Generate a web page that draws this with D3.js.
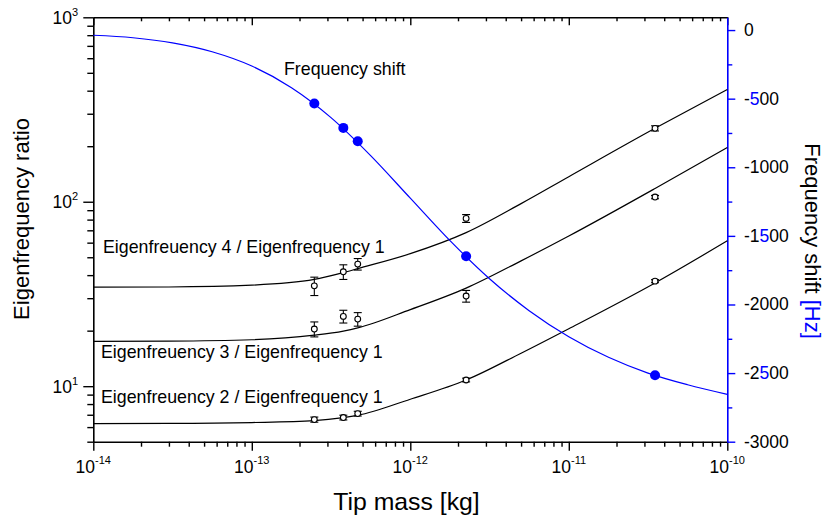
<!DOCTYPE html>
<html>
<head>
<meta charset="utf-8">
<script src="https://cdn.jsdelivr.net/npm/d3@7"></script>
<style>
    body { margin: 0; background: #fff; }
    text { font-family: "Liberation Sans", Arial, sans-serif; }
</style>
</head>
<body>
<svg id="chart" width="826" height="518"></svg>
<script>
// measured tip masses [kg]
const massData = [2.48e-13, 3.78e-13, 4.66e-13, 2.25e-12, 3.5e-11]

// measured eigenfrequency ratios and their errors
const ratio2 = [6.59, 6.76, 7.10, 10.8, 37.1]
const ratio2Err = [0.21, 0.20, 0.21, 0.25, 0.7]
const ratio3 = [20.4, 23.9, 23.1, 30.8, 106]
const ratio3Err = [1.9, 1.9, 1.95, 2.25, 2.2]
const ratio4 = [35.0, 41.7, 45.9, 81.2, 250]
const ratio4Err = [4.0, 3.8, 3.3, 4.0, 8]

// measured frequency shift [Hz]
const freqData = [-535, -713, -810, -1648, -2516]

// theory curves for the ratios
const theoryMass = [1e-14, 3e-14, 1e-13, 2.48e-13, 3.78e-13, 4.66e-13, 1e-12, 2.25e-12, 5e-12, 1e-11, 3.5e-11, 1e-10]
const theory2 = [6.27, 6.28, 6.35, 6.50, 6.75, 6.95, 8.5, 10.8, 15.1, 20.5, 36.3, 61.4]
const theory3 = [17.5, 17.55, 17.85, 18.9, 19.9, 20.7, 26.0, 34.0, 47.8, 65.2, 118, 197]
const theory4 = [34.4, 34.5, 35.3, 37.9, 41.3, 43.4, 52.3, 68.0, 97.7, 136.7, 250, 406]

// theory curve for the frequency shift
const freqMass = [1e-14, 1.78e-14, 3.16e-14, 5.62e-14, 1e-13, 1.78e-13, 3.16e-13, 5.62e-13, 1e-12,
    1.78e-12, 3.16e-12, 5.62e-12, 1e-11, 1.78e-11, 3.16e-11, 5.62e-11, 1e-10]
const freqShift = [-38, -56, -93, -158, -262, -420, -638, -915, -1225,
    -1535, -1812, -2045, -2235, -2385, -2500, -2585, -2655]

// tick labels
const xDecades = [-14, -13, -12, -11, -10]
const yDecades = [1, 2, 3]
const rightTicks = [-3000, -2500, -2000, -1500, -1000, -500, 0]

const blue = '#0000ff'
const plotLeft = 93.3, plotRight = 727.3, plotTop = 17.3, plotBottom = 441.7

const svg = d3.select('#chart')

const x = d3.scaleLog().domain([1e-14, 1e-10]).range([plotLeft, plotRight])
const yL = d3.scaleLog().domain([5, 1000]).range([plotBottom, plotTop])
const yR = d3.scaleLinear().domain([-3000, 93]).range([plotBottom, plotTop])

const isDecade = d => Math.abs(Math.log10(d) - Math.round(Math.log10(d))) < 1e-6

// bottom axis
const xAxis = svg.append('g')
    .attr('transform', `translate(0,${plotBottom})`)
    .call(d3.axisBottom(x).tickValues(x.ticks()).tickFormat('').tickSizeOuter(0))
xAxis.selectAll('.tick line').attr('y2', d => isDecade(d) ? 9 : 5)

// top axis, ticks inside
const xTop = svg.append('g')
    .attr('transform', `translate(0,${plotTop})`)
    .call(d3.axisBottom(x).tickValues(x.ticks()).tickFormat('').tickSizeOuter(0))
xTop.selectAll('.tick line').attr('y2', d => isDecade(d) ? 8 : 4)

// left axis
const yAxis = svg.append('g')
    .attr('transform', `translate(${plotLeft},0)`)
    .call(d3.axisLeft(yL).tickValues(yL.ticks()).tickFormat('').tickSizeOuter(0))
yAxis.selectAll('.tick line').attr('x2', d => isDecade(d) ? -10 : -6)

// right axis (frequency shift)
const rTicks = d3.range(-3000, 1, 250)
const rAxis = svg.append('g')
    .attr('transform', `translate(${plotRight},0)`)
    .call(d3.axisRight(yR).tickValues(rTicks).tickFormat('').tickSizeOuter(0))
rAxis.selectAll('.tick line').attr('x2', d => d % 500 === 0 ? 8 : 5).attr('stroke', blue)
rAxis.select('.domain').attr('stroke', blue)

svg.selectAll('.domain').attr('stroke-width', 1.6)
svg.selectAll('.tick line').attr('stroke-width', 1.4)

// x tick labels
xDecades.forEach(p => {
    const t = svg.append('text')
        .attr('x', x(Math.pow(10, p)))
        .attr('y', 473)
        .attr('text-anchor', 'middle')
        .style('font-size', '17.5px')
    t.append('tspan').text('10')
    t.append('tspan').attr('dy', -9).style('font-size', '11px').text(p)
})

// left tick labels
yDecades.forEach(p => {
    const t = svg.append('text')
        .attr('x', 78)
        .attr('y', yL(Math.pow(10, p)) + 6.5)
        .attr('text-anchor', 'end')
        .style('font-size', '17.5px')
    t.append('tspan').text('10')
    t.append('tspan').attr('dy', -8).style('font-size', '11px').text(p)
})

// right tick labels, the fives are blue in the original
rightTicks.forEach(v => {
    const t = svg.append('text')
        .attr('x', 744)
        .attr('y', yR(v) + 6)
        .style('font-size', '17.5px')
    String(v).split('').forEach(c => {
        t.append('tspan').attr('fill', c === '5' ? blue : '#000').text(c)
    })
})

// axis titles
svg.append('text')
    .attr('x', 406.5).attr('y', 510)
    .attr('text-anchor', 'middle')
    .style('font-size', '24.8px')
    .text('Tip mass [kg]')

svg.append('text')
    .attr('transform', 'translate(29,219) rotate(-90)')
    .attr('text-anchor', 'middle')
    .style('font-size', '22px')
    .text('Eigenfrequency ratio')

const rt = svg.append('text')
    .attr('transform', 'translate(805,241) rotate(90)')
    .attr('text-anchor', 'middle')
    .style('font-size', '22px')
rt.append('tspan').text('Frequency shift ')
rt.append('tspan').attr('fill', blue).text('[Hz]')

// theory lines
const ratioLine = d3.line()
    .x(d => x(d[0]))
    .y(d => yL(d[1]))
    .curve(d3.curveMonotoneX)

;[theory2, theory3, theory4].forEach(vals => {
    svg.append('path')
        .datum(theoryMass.map((m, i) => [m, vals[i]]))
        .attr('d', ratioLine)
        .attr('fill', 'none')
        .attr('stroke', '#000')
        .attr('stroke-width', 1.2)
})

const freqLine = d3.line()
    .x(d => x(d[0]))
    .y(d => yR(d[1]))
    .curve(d3.curveMonotoneX)

svg.append('path')
    .datum(freqMass.map((m, i) => [m, freqShift[i]]))
    .attr('d', freqLine)
    .attr('fill', 'none')
    .attr('stroke', blue)
    .attr('stroke-width', 1.2)

svg.selectAll('.fdot')
    .data(massData.map((m, i) => [m, freqData[i]]))
    .enter().append('circle')
    .attr('class', 'fdot')
    .attr('cx', d => x(d[0]))
    .attr('cy', d => yR(d[1]))
    .attr('r', 5)
    .attr('fill', blue)

// measured ratios with error bars
const series = [[ratio2, ratio2Err], [ratio3, ratio3Err], [ratio4, ratio4Err]]
series.forEach(([vals, errs]) => {
    const g = svg.append('g')
    massData.forEach((m, i) => {
        const cx = x(m)
        const y0 = yL(vals[i] - errs[i]), y1 = yL(vals[i] + errs[i])
        g.append('line').attr('x1', cx).attr('x2', cx).attr('y1', y0).attr('y2', y1)
            .attr('stroke', '#000').attr('stroke-width', 1.1)
        ;[y0, y1].forEach(yy => {
            g.append('line').attr('x1', cx - 4).attr('x2', cx + 4).attr('y1', yy).attr('y2', yy)
                .attr('stroke', '#000').attr('stroke-width', 1.1)
        })
        g.append('circle').attr('cx', cx).attr('cy', yL(vals[i])).attr('r', 2.9)
            .attr('fill', '#fff').attr('stroke', '#000').attr('stroke-width', 1.1)
    })
})

// annotations
const labels = [
    { text: 'Frequency shift', x: 284, y: 75 },
    { text: 'Eigenfreuency 4 / Eigenfrequency 1', x: 103, y: 253 },
    { text: 'Eigenfreuency 3 / Eigenfrequency 1', x: 101, y: 358 },
    { text: 'Eigenfreuency 2 / Eigenfrequency 1', x: 101, y: 403 }
]
svg.selectAll('.note')
    .data(labels)
    .enter().append('text')
    .attr('class', 'note')
    .attr('x', d => d.x)
    .attr('y', d => d.y)
    .style('font-size', '17.8px')
    .text(d => d.text)
</script>
</body>
</html>
